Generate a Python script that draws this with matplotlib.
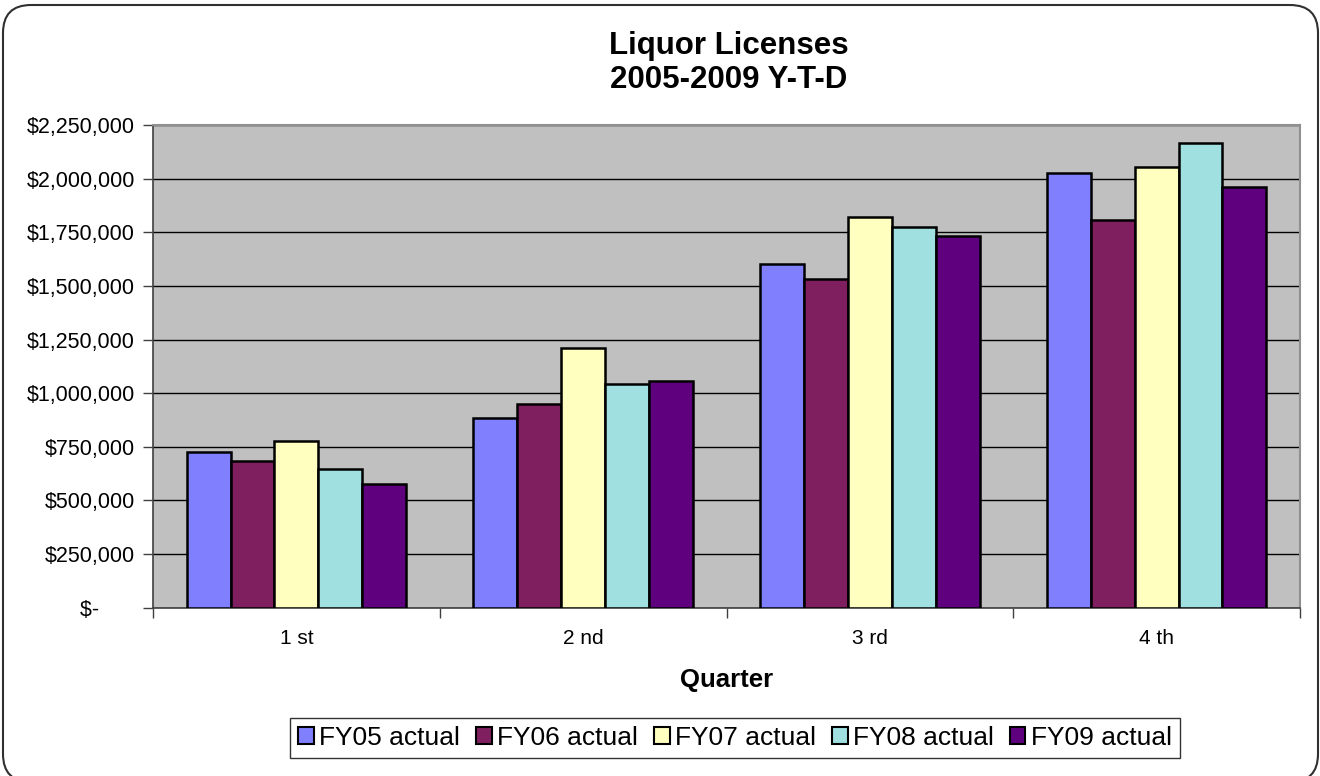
import matplotlib
matplotlib.use("Agg")
import matplotlib.pyplot as plt
import numpy as np
from matplotlib.patches import FancyBboxPatch
from matplotlib.ticker import FuncFormatter, FixedLocator

plt.rcParams['font.family'] = ['Liberation Sans', 'DejaVu Sans']

quarters = ["1 st", "2 nd", "3 rd", "4 th"]
series_names = ["FY05 actual", "FY06 actual", "FY07 actual", "FY08 actual", "FY09 actual"]
fy05 = [724000, 884000, 1600000, 2026000]
fy06 = [685000, 951000, 1532000, 1807000]
fy07 = [775000, 1212000, 1821000, 2052000]
fy08 = [645000, 1041000, 1776000, 2164000]
fy09 = [576000, 1055000, 1734000, 1959000]
series = [fy05, fy06, fy07, fy08, fy09]
colors = ["#8080FF", "#7F1F5F", "#FFFFC0", "#A0E0E0", "#5F007F"]

fig = plt.figure(figsize=(13.2, 7.76), dpi=100)
ax = fig.add_axes([153/1320, 1-607.7/776, (1300-153)/1320, (607.7-125)/776])
ax.set_facecolor("#C0C0C0")

x = np.arange(len(quarters))
w = 0.153
for k, (vals, name, c) in enumerate(zip(series, series_names, colors)):
    ax.bar(x + (k - 2) * w, vals, width=w, color=c, edgecolor="black",
           linewidth=1.8, label=name, zorder=3)

ax.set_xlim(-0.5, 3.5)
ax.set_ylim(0, 2250000)
ax.set_yticks(np.arange(0, 2250001, 250000))

def fmt(v, pos):
    if v == 0:
        return "$-      "
    return "${:,.0f}".format(v)
ax.yaxis.set_major_formatter(FuncFormatter(fmt))
ax.grid(axis="y", color="black", linewidth=1.0, zorder=1)
ax.set_axisbelow(True)

ax.set_xticks(x)
ax.set_xticklabels(quarters, fontsize=15)
ax.xaxis.set_minor_locator(FixedLocator(np.arange(-0.5, 4.0, 1.0)))
ax.tick_params(axis="x", which="major", length=0, pad=15)
ax.tick_params(axis="x", which="minor", length=7, width=1, color="#404040", direction="out")
ax.tick_params(axis="y", length=7, width=1, color="#404040", direction="out", labelsize=15.5, pad=6)

for s in ["left", "bottom"]:
    ax.spines[s].set_color("#404040")
    ax.spines[s].set_linewidth(1.2)
for s in ["top", "right"]:
    ax.spines[s].set_color("#909090")
    ax.spines[s].set_linewidth(1.5)

fig.text(729/1320, 1-63/776, "Liquor Licenses\n2005-2009 Y-T-D", ha="center", va="center",
         fontsize=22.5, fontweight="bold", linespacing=1.2)
fig.text(727/1320, 1-680/776, "Quarter", ha="center", va="center",
         fontsize=18.5, fontweight="bold")

leg = fig.legend(loc="center", bbox_to_anchor=(735/1320, 1-738/776), ncol=5,
                 fontsize=19, frameon=True, fancybox=False, edgecolor="black",
                 handlelength=0.6, handleheight=0.6, handletextpad=0.2,
                 columnspacing=0.6, borderpad=0.3, borderaxespad=0)
leg.get_frame().set_linewidth(1.0)
for h in leg.legend_handles:
    h.set_linewidth(1.5)

border = FancyBboxPatch((0.03, -0.06), 13.15, 7.77, boxstyle="round,pad=0,rounding_size=0.28",
                        transform=fig.dpi_scale_trans, facecolor="none", edgecolor="#303030",
                        linewidth=1.5)
fig.patches.append(border)

fig.savefig("out.png", dpi=100)
